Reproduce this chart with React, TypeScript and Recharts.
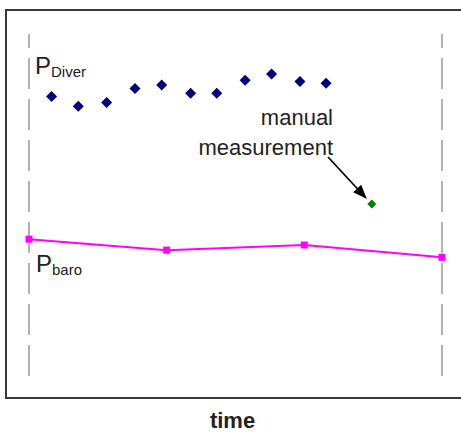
import { ReferenceLine, Scatter, ScatterChart, XAxis, YAxis } from "recharts";

const diverTimes = [0.82, 1.79, 2.82, 3.85, 4.82, 5.87, 6.82, 7.85, 8.81, 9.84, 10.79];
const diverValues = [81.7, 78.9, 80.0, 84.1, 85.1, 82.7, 82.7, 86.5, 88.3, 86.1, 85.6];
const manualTimes = [12.45];
const manualValues = [50.3];
const baroTimes = [0, 5, 10, 15];
const baroValues = [40.0, 36.8, 38.3, 34.7];
const boundaryTimes = [0, 15];

const diverData = diverTimes.map((t, i) => ({ t, p: diverValues[i] }));
const manualData = manualTimes.map((t, i) => ({ t, p: manualValues[i] }));
const baroData = baroTimes.map((t, i) => ({ t, p: baroValues[i] }));

const font = "'Liberation Sans', Arial, sans-serif";
const textColor = "#222";

function Diamond({ cx, cy, r, fill }: { cx?: number; cy?: number; r: number; fill: string }) {
  if (cx == null || cy == null) return null;
  return <polygon points={`${cx},${cy - r} ${cx + r},${cy} ${cx},${cy + r} ${cx - r},${cy}`} fill={fill} />;
}

function Square({ cx, cy }: { cx?: number; cy?: number }) {
  if (cx == null || cy == null) return null;
  return <rect x={cx - 3.5} y={cy - 3.5} width={7} height={7} fill="#ff00ff" />;
}

export default function App() {
  return (
    <div style={{ position: "absolute", left: 0, top: 0, width: 461, height: 434, overflow: "hidden", background: "#fff" }}>
      <div style={{ position: "absolute", left: 5, top: 9, width: 480, height: 390, boxSizing: "border-box", border: "2px solid #3a3a3a" }} />
      <div style={{ position: "absolute", left: 0, top: 0 }}>
        <ScatterChart width={461} height={434} margin={{ top: 34, right: 19, bottom: 58, left: 29 }}>
          <XAxis type="number" dataKey="t" domain={[0, 15]} hide />
          <YAxis type="number" dataKey="p" domain={[0, 100]} hide />
          {boundaryTimes.map((t) => (
            <ReferenceLine key={t} segment={[{ x: t, y: 0 }, { x: t, y: 100 }]} stroke="#9a9a9a" strokeWidth={1.5} strokeDasharray="31 10" ifOverflow="visible" />
          ))}
          <Scatter data={baroData} line={{ stroke: "#ff00ff", strokeWidth: 2 }} shape={(props: any) => <Square cx={props.cx} cy={props.cy} />} isAnimationActive={false} />
          <Scatter data={diverData} shape={(props: any) => <Diamond cx={props.cx} cy={props.cy} r={5.5} fill="#000080" />} isAnimationActive={false} />
          <Scatter data={manualData} shape={(props: any) => <Diamond cx={props.cx} cy={props.cy} r={4.5} fill="#008000" />} isAnimationActive={false} />
        </ScatterChart>
      </div>
      <svg width={461} height={434} style={{ position: "absolute", left: 0, top: 0, pointerEvents: "none" }}>
        <defs>
          <marker id="arrow" markerWidth="14" markerHeight="11" refX="13" refY="5.5" orient="auto" markerUnits="userSpaceOnUse">
            <polygon points="0,0 14,5.5 0,11" fill="#000" />
          </marker>
        </defs>
        <text x={35} y={74} fontFamily={font} fill={textColor}>
          <tspan fontSize={24}>P</tspan>
          <tspan fontSize={15} dy={3}>Diver</tspan>
        </text>
        <text x={36} y={272} fontFamily={font} fill={textColor}>
          <tspan fontSize={24}>P</tspan>
          <tspan fontSize={15} dy={3}>baro</tspan>
        </text>
        <text x={333} y={125} fontFamily={font} fontSize={22} fill={textColor} textAnchor="end">manual</text>
        <text x={333} y={155} fontFamily={font} fontSize={22} fill={textColor} textAnchor="end">measurement</text>
        <line x1={328} y1={157} x2={366} y2={198} stroke="#000" strokeWidth={1.8} markerEnd="url(#arrow)" />
        <text x={232.5} y={428} fontFamily={font} fontSize={22} fontWeight="bold" fill={textColor} textAnchor="middle">time</text>
      </svg>
    </div>
  );
}
